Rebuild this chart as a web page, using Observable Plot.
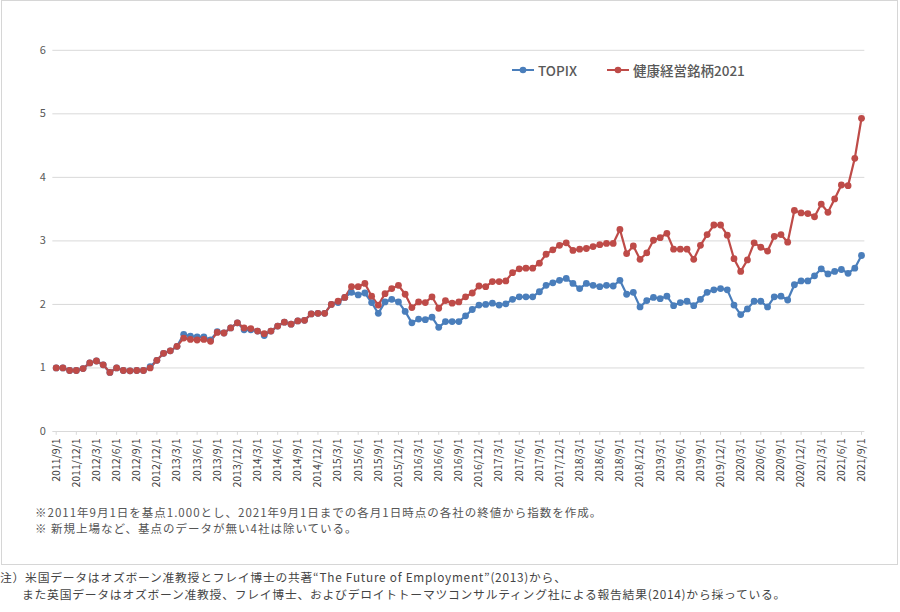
<!DOCTYPE html>
<html><head><meta charset="utf-8">
<script src="https://cdn.jsdelivr.net/npm/d3@7"></script>
<script src="https://cdn.jsdelivr.net/npm/@observablehq/plot@0.6"></script>
<style>
body{margin:0;background:#fff;font-family:"Noto Sans CJK JP","Noto Sans",sans-serif;}
#wrap{position:relative;width:900px;height:612px;overflow:hidden;background:#fff;}
#box{position:absolute;left:1px;top:0;width:897px;height:565px;border:1px solid #d6d6d6;box-sizing:border-box;}
#chart{position:absolute;left:0;top:0;}
.leg{position:absolute;top:61px;height:18px;display:flex;align-items:center;font-size:13.5px;font-weight:500;color:#595959;white-space:nowrap;}
.leg svg{margin-right:4px;}
.n1{position:absolute;left:35px;top:503.5px;font-size:11.5px;line-height:16.8px;color:#555;letter-spacing:1px;white-space:nowrap;}
.n2{position:absolute;left:0;top:567.5px;font-size:11.8px;line-height:17.2px;color:#444;white-space:nowrap;letter-spacing:0.75px;padding-left:22px;text-indent:-22px;}
</style></head>
<body><div id="wrap">
<div id="box"></div>
<div id="chart"></div>
<div class="leg" style="left:512px"><svg width="22" height="10"><line x1="0" x2="22" y1="5" y2="5" stroke="#4a7ebb" stroke-width="2"/><circle cx="11" cy="5" r="3.3" fill="#4a7ebb"/></svg><span id="l1"></span></div>
<div class="leg" style="left:607px"><svg width="22" height="10"><line x1="0" x2="22" y1="5" y2="5" stroke="#be4b48" stroke-width="2"/><circle cx="11" cy="5" r="3.3" fill="#be4b48"/></svg><span id="l2"></span></div>
<div class="n1">※2011年9月1日を基点1.000とし、2021年9月1日までの各月1日時点の各社の終値から指数を作成。<br>※ 新規上場など、基点のデータが無い4社は除いている。</div>
<div class="n2">注）米国データはオズボーン准教授とフレイ博士の共著“The Future of Employment”(2013)から、<br>また英国データはオズボーン准教授、フレイ博士、およびデロイトトーマツコンサルティング社による報告結果(2014)から採っている。</div>
</div>
<script>
const seriesNames = ["TOPIX", "健康経営銘柄2021"];
const months = ("2011/9/1 2011/10/1 2011/11/1 2011/12/1 " +
  "2012/1/1 2012/2/1 2012/3/1 2012/4/1 2012/5/1 2012/6/1 2012/7/1 2012/8/1 2012/9/1 2012/10/1 2012/11/1 2012/12/1 " +
  "2013/1/1 2013/2/1 2013/3/1 2013/4/1 2013/5/1 2013/6/1 2013/7/1 2013/8/1 2013/9/1 2013/10/1 2013/11/1 2013/12/1 " +
  "2014/1/1 2014/2/1 2014/3/1 2014/4/1 2014/5/1 2014/6/1 2014/7/1 2014/8/1 2014/9/1 2014/10/1 2014/11/1 2014/12/1 " +
  "2015/1/1 2015/2/1 2015/3/1 2015/4/1 2015/5/1 2015/6/1 2015/7/1 2015/8/1 2015/9/1 2015/10/1 2015/11/1 2015/12/1 " +
  "2016/1/1 2016/2/1 2016/3/1 2016/4/1 2016/5/1 2016/6/1 2016/7/1 2016/8/1 2016/9/1 2016/10/1 2016/11/1 2016/12/1 " +
  "2017/1/1 2017/2/1 2017/3/1 2017/4/1 2017/5/1 2017/6/1 2017/7/1 2017/8/1 2017/9/1 2017/10/1 2017/11/1 2017/12/1 " +
  "2018/1/1 2018/2/1 2018/3/1 2018/4/1 2018/5/1 2018/6/1 2018/7/1 2018/8/1 2018/9/1 2018/10/1 2018/11/1 2018/12/1 " +
  "2019/1/1 2019/2/1 2019/3/1 2019/4/1 2019/5/1 2019/6/1 2019/7/1 2019/8/1 2019/9/1 2019/10/1 2019/11/1 2019/12/1 " +
  "2020/1/1 2020/2/1 2020/3/1 2020/4/1 2020/5/1 2020/6/1 2020/7/1 2020/8/1 2020/9/1 2020/10/1 2020/11/1 2020/12/1 " +
  "2021/1/1 2021/2/1 2021/3/1 2021/4/1 2021/5/1 2021/6/1 2021/7/1 2021/8/1 2021/9/1").split(" ");
const tickLabels = ["2011/9/1","2011/12/1","2012/3/1","2012/6/1","2012/9/1","2012/12/1","2013/3/1","2013/6/1","2013/9/1","2013/12/1",
  "2014/3/1","2014/6/1","2014/9/1","2014/12/1","2015/3/1","2015/6/1","2015/9/1","2015/12/1","2016/3/1","2016/6/1",
  "2016/9/1","2016/12/1","2017/3/1","2017/6/1","2017/9/1","2017/12/1","2018/3/1","2018/6/1","2018/9/1","2018/12/1",
  "2019/3/1","2019/6/1","2019/9/1","2019/12/1","2020/3/1","2020/6/1","2020/9/1","2020/12/1","2021/3/1","2021/6/1","2021/9/1"];
const yTicks = [0, 1, 2, 3, 4, 5, 6];
const topix = [1.00,1.00,0.96,0.96,0.99,1.08,1.11,1.05,0.93,1.00,0.96,0.955,0.96,0.96,1.02,1.12,1.23,1.27,1.34,1.53,
  1.50,1.49,1.49,1.44,1.57,1.55,1.63,1.71,1.60,1.60,1.58,1.51,1.58,1.66,1.72,1.69,1.74,1.75,1.85,1.86,
  1.86,2.00,2.03,2.11,2.19,2.15,2.18,2.03,1.86,2.04,2.08,2.04,1.89,1.71,1.77,1.76,1.80,1.64,1.73,1.73,
  1.73,1.82,1.92,1.99,2.00,2.02,1.99,2.01,2.08,2.12,2.12,2.12,2.20,2.30,2.34,2.38,2.41,2.33,2.25,2.33,
  2.30,2.28,2.30,2.29,2.38,2.16,2.19,1.96,2.06,2.11,2.09,2.13,1.98,2.03,2.05,1.98,2.08,2.19,2.23,2.25,
  2.23,1.99,1.84,1.93,2.05,2.05,1.96,2.12,2.13,2.07,2.31,2.37,2.37,2.45,2.56,2.48,2.52,2.55,2.49,2.57,2.77];
const kenko = [1.00,1.00,0.96,0.96,0.99,1.08,1.11,1.05,0.93,1.00,0.96,0.955,0.96,0.96,1.00,1.12,1.23,1.27,1.34,1.47,
  1.45,1.44,1.45,1.42,1.56,1.55,1.63,1.71,1.63,1.62,1.58,1.54,1.58,1.66,1.72,1.69,1.74,1.75,1.85,1.86,
  1.86,2.00,2.05,2.11,2.28,2.28,2.33,2.13,1.99,2.17,2.25,2.30,2.16,1.95,2.04,2.03,2.12,1.94,2.06,2.02,
  2.04,2.12,2.18,2.29,2.28,2.36,2.36,2.37,2.50,2.56,2.57,2.57,2.65,2.79,2.86,2.93,2.97,2.85,2.87,2.88,
  2.91,2.94,2.96,2.96,3.18,2.80,2.92,2.71,2.81,3.01,3.05,3.12,2.87,2.87,2.87,2.71,2.93,3.10,3.25,3.25,
  3.09,2.72,2.52,2.70,2.97,2.90,2.84,3.07,3.10,2.98,3.48,3.44,3.43,3.38,3.58,3.45,3.66,3.88,3.87,4.30,4.93];

document.getElementById("l1").textContent = seriesNames[0];
document.getElementById("l2").textContent = seriesNames[1];

const BLUE = "#4a7ebb", RED = "#be4b48";
const rows = [];
months.forEach((m, i) => { rows.push({i, v: topix[i], s: seriesNames[0]}); });
months.forEach((m, i) => { rows.push({i, v: kenko[i], s: seriesNames[1]}); });
const tickIdx = tickLabels.map(l => months.indexOf(l));
const tFont = '"Noto Sans CJK JP","Noto Sans",sans-serif';

const chart = Plot.plot({
  width: 900, height: 500,
  marginLeft: 55.7, marginRight: 39, marginTop: 49.8, marginBottom: 69,
  style: {fontFamily: tFont, background: "transparent"},
  x: {type: "linear", domain: [0, months.length - 1], axis: null},
  y: {type: "linear", domain: [0, 6], axis: null},
  color: {domain: seriesNames, range: [BLUE, RED]},
  marks: [
    Plot.ruleY(yTicks, {y: d => d, x1: -0.5, x2: months.length - 0.5, stroke: "#d9d9d9", strokeWidth: 1}),
    Plot.ruleX(tickIdx, {x: d => d, y1: 0, y2: -0.06, stroke: "#d9d9d9"}),
    Plot.text(yTicks, {x: -0.5, y: d => d, text: d => String(d), dx: -10, textAnchor: "middle", fontSize: 11, fill: "#595959"}),
    Plot.text(tickIdx, {x: d => d, y: yTicks[0], text: d => months[d], rotate: -90, textAnchor: "end", lineAnchor: "middle", dy: 7, fontSize: 10.5, fill: "#404040"}),
    Plot.line(rows, {x: "i", y: "v", stroke: "s", z: "s", strokeWidth: 2.2}),
    Plot.dot(rows, {x: "i", y: "v", fill: "s", r: 3.4})
  ]
});
document.getElementById("chart").appendChild(chart);
</script>
</body></html>
